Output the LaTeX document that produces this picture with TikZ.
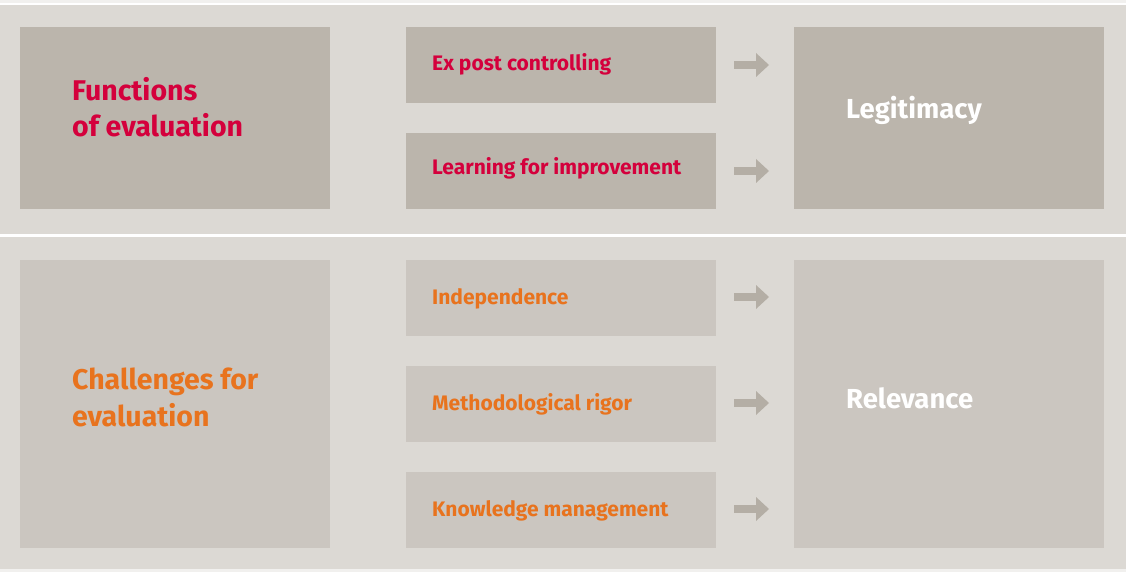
\documentclass[tikz,border=0pt]{standalone}
\usepackage{fontspec}
\setmainfont{Fira Sans}
\definecolor{edge}{HTML}{F1F0EE}
\definecolor{panel}{HTML}{DCD9D4}
\definecolor{darkbox}{HTML}{BBB5AC}
\definecolor{lightbox}{HTML}{CBC6C0}
\definecolor{arrowc}{HTML}{B4AEA5}
\definecolor{lred}{HTML}{D4003C}
\definecolor{lorange}{HTML}{E8731E}
\tikzset{
  box/.style={inner sep=0pt, outer sep=0pt, anchor=north west},
  lab/.style={anchor=base west, inner sep=0pt, font=\bfseries\fontsize{21}{25}\selectfont},
  big/.style={anchor=base west, inner sep=0pt, align=left, font=\bfseries\fontsize{28.5}{36.7}\selectfont},
  res/.style={anchor=base west, inner sep=0pt, text=white, font=\bfseries\fontsize{27.5}{32}\selectfont},
  arr/.style={fill=arrowc, draw=none}
}
\begin{document}
\begin{tikzpicture}[x=1pt,y=-1pt]
\useasboundingbox (0,0) rectangle (1126,572);
\fill[edge] (0,0) rectangle (1126,572);
\fill[white] (0,3) rectangle (1126,5);
\fill[panel] (0,5) rectangle (1126,234);
\fill[white] (0,234) rectangle (1126,237);
\fill[panel] (0,237) rectangle (1126,569);
% top panel boxes
\node[box, fill=darkbox, minimum width=310pt, minimum height=182pt] (f) at (20,27) {};
\node[box, fill=darkbox, minimum width=310pt, minimum height=76pt] (m1) at (406,27) {};
\node[box, fill=darkbox, minimum width=310pt, minimum height=76pt] (m2) at (406,133) {};
\node[box, fill=darkbox, minimum width=310pt, minimum height=182pt] (l) at (794,27) {};
% bottom panel boxes
\node[box, fill=lightbox, minimum width=310pt, minimum height=288pt] (c) at (20,260) {};
\node[box, fill=lightbox, minimum width=310pt, minimum height=76pt] (n1) at (406,260) {};
\node[box, fill=lightbox, minimum width=310pt, minimum height=76pt] (n2) at (406,366) {};
\node[box, fill=lightbox, minimum width=310pt, minimum height=76pt] (n3) at (406,472) {};
\node[box, fill=lightbox, minimum width=310pt, minimum height=288pt] (r) at (794,260) {};
% texts (base anchor = last line baseline)
\node[big, text=lred] (ft) at (72,137) {Functions\\of evaluation};
\node[big, text=lorange] (ct) at (72,426) {Challenges for\\evaluation};
\node[lab, text=lred] (t1) at (432,71) {Ex post controlling};
\node[lab, text=lred] (t2) at (432,175) {Learning for improvement};
\node[lab, text=lorange] (t3) at (432,304) {Independence};
\node[lab, text=lorange] (t4) at (432,410) {Methodological rigor};
\node[lab, text=lorange] (t5) at (432,516) {Knowledge management};
\node[res] (lt) at (846,119) {Legitimacy};
\node[res] (rt) at (846,408) {Relevance};
% arrows
\foreach \y/\n in {65/a1,171/a2,297/a3,403/a4,509/a5}{
  \fill[arr] (734,\y-3.8) -- (756,\y-3.8) -- (756,\y-12) -- (769,\y) -- (756,\y+12) -- (756,\y+3.8) -- (734,\y+3.8) -- cycle;
}
\end{tikzpicture}
\end{document}
